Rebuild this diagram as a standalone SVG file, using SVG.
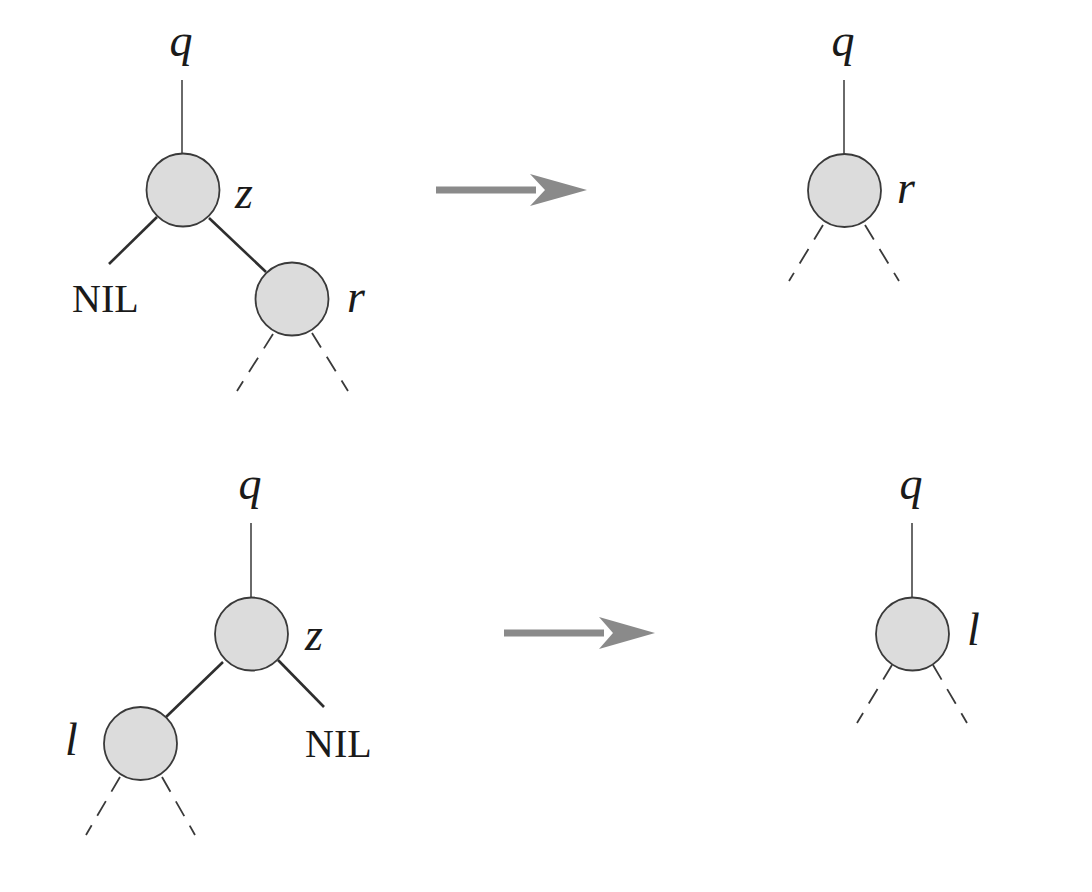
<svg xmlns="http://www.w3.org/2000/svg" width="1092" height="892" viewBox="0 0 1092 892">
<style>
.node{fill:#dcdcdc;stroke:#3a3a3a;stroke-width:1.8}
.up{stroke:#5a5a5a;stroke-width:1.8;fill:none}
.edge{stroke:#2e2e2e;stroke-width:2.6;fill:none}
.dash{stroke:#3a3a3a;stroke-width:1.8;fill:none;stroke-dasharray:17 11}
.lbl{font-family:"Liberation Serif",serif;font-style:italic;font-size:46px;fill:#1a1a1a}
.nil{font-family:"Liberation Serif",serif;font-size:40px;fill:#1a1a1a}
.arrow{fill:#8a8a8a}
</style>
<rect width="1092" height="892" fill="#ffffff"/>
<g id="connectors">
  <line class="up" x1="182" y1="80" x2="182" y2="154"/>
  <line class="edge" x1="157" y1="217" x2="109" y2="264"/>
  <line class="edge" x1="209" y1="218" x2="266" y2="272"/>
  <line class="dash" x1="273" y1="334" x2="237" y2="391"/>
  <line class="dash" x1="312" y1="333" x2="348" y2="391"/>
  <line class="up" x1="844" y1="80" x2="844" y2="154"/>
  <line class="dash" x1="823" y1="225" x2="789" y2="281"/>
  <line class="dash" x1="865" y1="225" x2="899" y2="281"/>
  <line class="up" x1="251" y1="523" x2="251" y2="597"/>
  <line class="edge" x1="278" y1="660" x2="324" y2="707"/>
  <line class="edge" x1="223" y1="662" x2="166" y2="717"/>
  <line class="dash" x1="120" y1="777" x2="86" y2="835"/>
  <line class="dash" x1="162" y1="777" x2="195" y2="835"/>
  <line class="up" x1="912" y1="523" x2="912" y2="597"/>
  <line class="dash" x1="892" y1="665" x2="857" y2="723"/>
  <line class="dash" x1="933" y1="665" x2="967" y2="723"/>
</g>
<g id="arrow1">
  <rect class="arrow" x="436" y="186.5" width="100" height="7"/>
  <polygon class="arrow" points="587,190 530,174 545,190 530,206"/>
</g>
<g id="arrow2">
  <rect class="arrow" x="504" y="629.5" width="100" height="7"/>
  <polygon class="arrow" points="655,633 599,617 613,633 599,649"/>
</g>
<g id="tl-q"><text class="lbl" x="181" y="56" text-anchor="middle">q</text></g>
<g id="tl-z"><circle class="node" cx="183" cy="190" r="36.5"/><text class="lbl" x="235" y="208">z</text></g>
<g id="tl-nil"><text class="nil" x="72" y="312">NIL</text></g>
<g id="tl-r"><circle class="node" cx="292" cy="299" r="36.5"/><text class="lbl" x="347" y="312">r</text></g>
<g id="tr-q"><text class="lbl" x="843" y="56" text-anchor="middle">q</text></g>
<g id="tr-r"><circle class="node" cx="844.5" cy="190.5" r="36.5"/><text class="lbl" x="897" y="203">r</text></g>
<g id="bl-q"><text class="lbl" x="250" y="499" text-anchor="middle">q</text></g>
<g id="bl-z"><circle class="node" cx="251.5" cy="634" r="36.5"/><text class="lbl" x="305" y="650">z</text></g>
<g id="bl-nil"><text class="nil" x="305" y="757">NIL</text></g>
<g id="bl-l"><circle class="node" cx="140.5" cy="743.5" r="36.5"/><text class="lbl" x="65" y="755">l</text></g>
<g id="br-q"><text class="lbl" x="911" y="499" text-anchor="middle">q</text></g>
<g id="br-l"><circle class="node" cx="912.5" cy="634" r="36.5"/><text class="lbl" x="967" y="645">l</text></g>
</svg>
